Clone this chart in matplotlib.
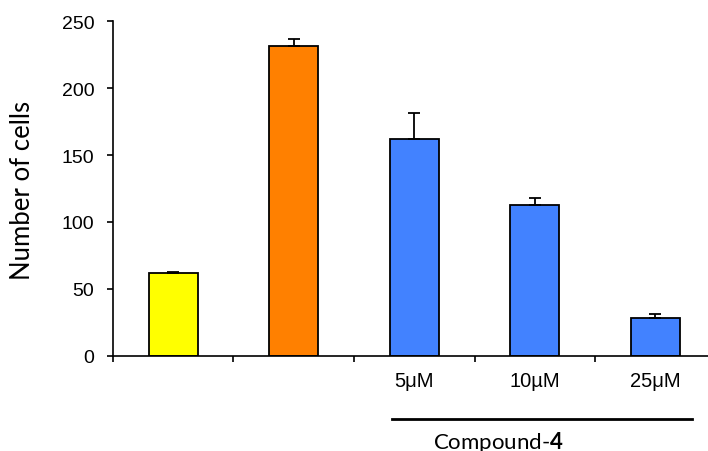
import matplotlib
matplotlib.use("Agg")
import matplotlib.pyplot as plt
import numpy as np

# values
groups = ["", "", "5\u03bcM", "10\u00b5M", "25\u03bcM"]
cells = [61.8, 231.5, 162.0, 112.5, 28.0]
err_up = [0.8, 5.0, 19.5, 5.5, 3.0]
colors = ["#FFFF00", "#FF8000", "#4282FF", "#4282FF", "#4282FF"]
yticks = [0, 50, 100, 150, 200, 250]

plt.rcParams['font.family'] = ['Liberation Sans', 'DejaVu Sans']
plt.rcParams['mathtext.fontset'] = 'custom'
plt.rcParams['mathtext.rm'] = 'Lato'
plt.rcParams['mathtext.bf'] = 'Lato:bold'

fig = plt.figure(figsize=(7.08, 4.52), dpi=100)
ax = fig.add_axes([0.1596, 0.2108, 0.851, 0.7398])

x = np.arange(len(cells))
ax.bar(x, cells, width=0.41, color=colors, edgecolor="black", linewidth=1.3,
       yerr=[np.zeros(len(cells)), err_up], capsize=4,
       error_kw=dict(ecolor="black", elinewidth=1.3, capthick=1.3), zorder=2)

ax.set_xlim(-0.5, 4.5)
ax.set_ylim(0, 250)
ax.set_yticks(yticks)
ax.tick_params(axis='y', labelsize=14, length=4.5, width=1.2, direction='out', pad=9)

# ticks at the boundaries between categories, labels under the bar centres
ax.set_xticks(np.arange(-0.5, 4.6, 1.0))
ax.set_xticklabels([])
ax.tick_params(axis='x', which='major', length=4.5, width=1.2, direction='out')
ax.set_xticks(x, minor=True)
ax.set_xticklabels(groups, minor=True)
ax.tick_params(axis='x', which='minor', length=0, labelsize=14.5, pad=11)

for s in ["top", "right"]:
    ax.spines[s].set_visible(False)
for s in ["left", "bottom"]:
    ax.spines[s].set_linewidth(1.2)

fig.text(23 / 708, 1 - 190 / 452, "Number of cells", rotation=90, ha="center",
         va="center", fontsize=18.5, family="Lato")

# bracket line and compound label
fig.add_artist(plt.Line2D([392 / 708, 692 / 708], [1 - 419.5 / 452, 1 - 419.5 / 452],
                          color="black", linewidth=2))
fig.text(498 / 708, 1 - 449 / 452, r"Compound-$\mathbf{4}$", ha="center", va="baseline",
         fontsize=16, family="Lato")

fig.savefig("out.png", dpi=100)
